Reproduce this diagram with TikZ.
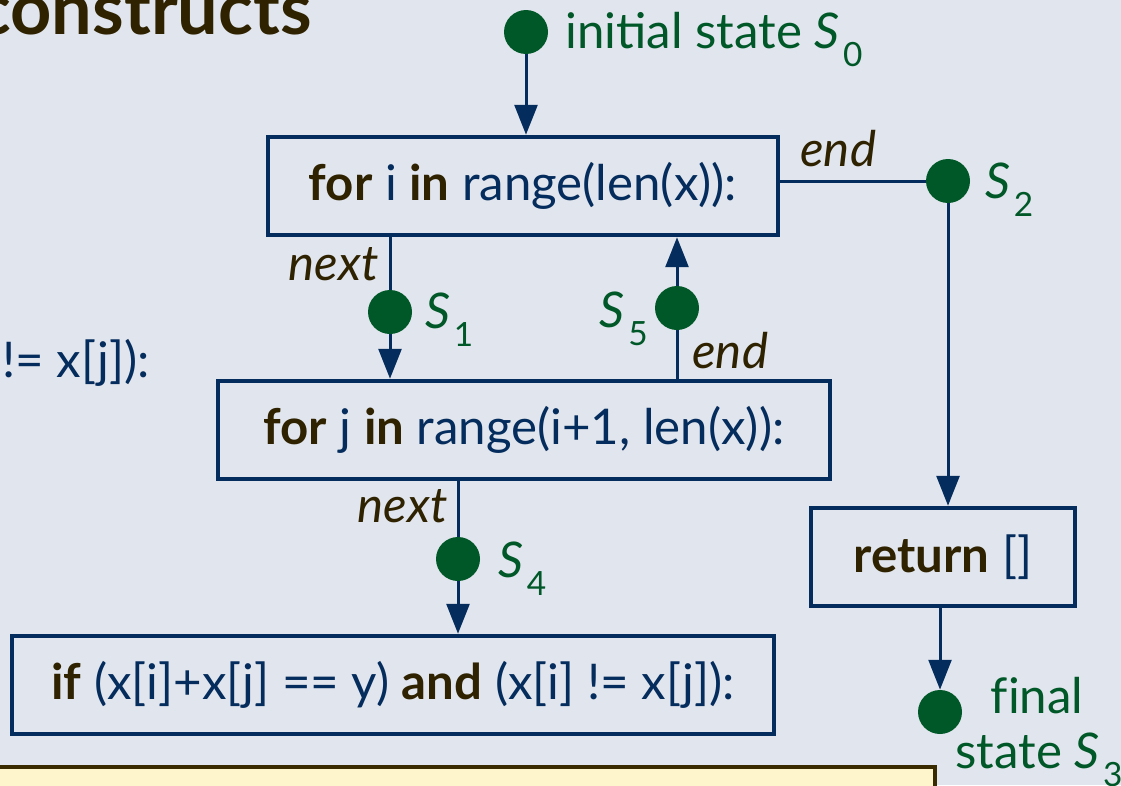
\documentclass[tikz,border=0pt]{standalone}
\usepackage{fontspec}
\setmainfont{Lato}
\usepackage{tikz}
\usetikzlibrary{arrows.meta, positioning}
\usepackage{xcolor}
\definecolor{slidebg}{RGB}{225,229,237}
\definecolor{navy}{RGB}{4,44,92}
\definecolor{kwbrown}{RGB}{46,34,0}
\definecolor{stgreen}{RGB}{0,88,40}
\definecolor{noteyellow}{RGB}{255,245,204}
\definecolor{notebrown}{RGB}{58,42,0}
\newcommand{\kw}[1]{\textbf{\color{kwbrown}#1}}
\newcommand{\stname}[1]{\textit{S}\kern2pt\raisebox{-0.75ex}{\fontsize{19}{19}\selectfont #1}}
\tikzstyle{arrow}     = [line width=1.7pt, draw=navy, -{Triangle[length=17pt,width=13pt]}]
\tikzstyle{edge}      = [line width=1.7pt, draw=navy]
\tikzstyle{codebox}   = [draw=navy, line width=2.3pt, minimum height=1.97cm, inner sep=0pt, text=navy, font=\fontsize{28}{33}\selectfont]
\tikzstyle{statedot}  = [circle, fill=stgreen, minimum size=0.88cm, inner sep=0pt]
\tikzstyle{statelabel}= [inner sep=0pt, text=stgreen, font=\fontsize{28}{33}\selectfont]
\tikzstyle{branch}    = [inner sep=0pt, text=kwbrown, font=\fontsize{28}{33}\selectfont\itshape]

\begin{document}
\begin{tikzpicture}[x=0.02cm, y=-0.02cm]

\clip (0,0) rectangle (1121,785);
\fill[slidebg] (0,0) rectangle (1121,785);

% slide pieces cut off by the frame
\node[inner sep=0pt, anchor=base east, text=kwbrown, font=\fontsize{41}{47}\selectfont\bfseries] (title) at (312,34) {constructs};
\node[inner sep=0pt, anchor=base east, text=navy, font=\fontsize{28}{33}\selectfont] (leftcode) at (150,377) {!= x[j]):};
\draw[notebrown, line width=2pt, fill=noteyellow] (-20,767) rectangle (935,820);

% code boxes
\node[codebox, minimum width=10.22cm] (forI)   at (523,186) {\kw{for} i \kw{in} range(len(x)):};
\node[codebox, minimum width=12.26cm] (forJ)   at (524,430) {\kw{for} j \kw{in} range(i+1, len(x)):};
\node[codebox, minimum width=15.24cm] (ifPair) at (393,685) {\kw{if} (x[i]+x[j] == y) \kw{and} (x[i] != x[j]):};
\node[codebox, minimum width=5.28cm]  (ret)    at (943,557) {\kw{return} []};

% states
\node[statedot] (S0) at (526,32) {};
\node[statedot] (S1) at (390,312) {};
\node[statedot] (S2) at (948,181) {};
\node[statedot] (S3) at (940,712) {};
\node[statedot] (S4) at (458,559) {};
\node[statedot] (S5) at (677,308) {};

\node[statelabel, anchor=base west] (S0txt) at (565,48) {initial state \stname{0}};
\node[statelabel, anchor=base west] (S1txt) at (425,328) {\stname{1}};
\node[statelabel, anchor=base east] (S5txt) at (648,327) {\stname{5}};
\node[statelabel, anchor=base west] (S2txt) at (985,198) {\stname{2}};
\node[statelabel, anchor=base west] (S4txt) at (498,577) {\stname{4}};
\node[statelabel, anchor=base] (S3txtA) at (1037,713) {f\kern0pt inal};
\node[statelabel, anchor=base west] (S3txtB) at (955,768) {state \stname{3}};

% branch labels
\node[branch, anchor=base east] (nextI) at (379,280) {next};
\node[branch, anchor=base west] (endJ)  at (692,368) {end};
\node[branch, anchor=base west] (endI)  at (800,166) {end};
\node[branch, anchor=base east] (nextJ) at (448,522) {next};

% connectors
\draw[arrow] (S0) -- (S0 |- forI.north);
\draw[edge]  (forI.south -| S1) -- (S1);
\draw[arrow] (S1) -- (S1 |- forJ.north);
\draw[edge]  (forJ.north -| S5) -- (S5);
\draw[arrow] (S5) -- (S5 |- forI.south);
\draw[edge]  (forI.east |- S2) -- (S2);
\draw[arrow] (S2) -- (S2 |- ret.north);
\draw[edge]  (forJ.south -| S4) -- (S4);
\draw[arrow] (S4) -- (S4 |- ifPair.north);
\draw[arrow] (ret.south -| S3) -- (S3);

\end{tikzpicture}
\end{document}
